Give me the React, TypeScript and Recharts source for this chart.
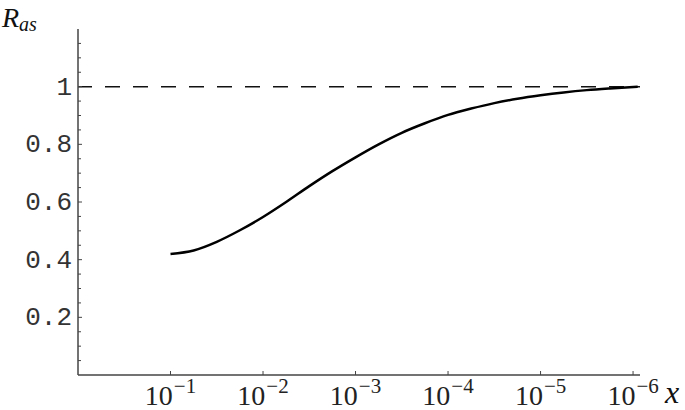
import { LineChart, Line, XAxis, YAxis, ReferenceLine } from 'recharts';

// t = -log10(x), so 10^-1 sits at t = 1
const curveT = [1.0, 1.25, 1.5, 1.75, 2.0, 2.25, 2.5, 2.75, 3.0, 3.25, 3.5, 3.75, 4.0, 4.25, 4.5, 4.75, 5.0, 5.25, 5.5, 5.75, 6.05];
const curveR = [0.42, 0.432, 0.462, 0.502, 0.548, 0.6, 0.655, 0.707, 0.755, 0.8, 0.84, 0.873, 0.902, 0.924, 0.943, 0.958, 0.97, 0.98, 0.988, 0.994, 1.0];

const xExponents = [1, 2, 3, 4, 5, 6];
const yMinorTicks = [0.05, 0.1, 0.15, 0.2, 0.25, 0.3, 0.35, 0.4, 0.45, 0.5, 0.55, 0.6, 0.65, 0.7, 0.75, 0.8, 0.85, 0.9, 0.95, 1.0, 1.05, 1.1, 1.15];
const yMajorValues = [0.2, 0.4, 0.6, 0.8, 1.0];
const yMajorLabels = ['0.2', '0.4', '0.6', '0.8', '1'];

const data = curveT.map((t, i) => ({ t, R: curveR[i] }));

const axisColor = '#444';

const YTick = (props: any) => {
  const { x, y, payload } = props;
  const idx = yMajorValues.findIndex((v) => Math.abs(v - payload.value) < 1e-6);
  const major = idx >= 0;
  return (
    <g>
      <line x1={x} y1={y} x2={x + (major ? 4 : 3)} y2={y} stroke={axisColor} strokeWidth={1} />
      {major && (
        <text
          x={x - 6}
          y={y}
          dy={8}
          textAnchor="end"
          fontFamily="'Liberation Mono', monospace"
          fontSize={26}
          fill="#333"
        >
          {yMajorLabels[idx]}
        </text>
      )}
    </g>
  );
};

const XTick = (props: any) => {
  const { x, y, payload } = props;
  return (
    <g>
      <line x1={x} y1={y} x2={x} y2={y - 4} stroke={axisColor} strokeWidth={1} />
      <text
        x={x}
        y={y + 30}
        textAnchor="middle"
        fontFamily="'Liberation Serif', serif"
        fill="#222"
      >
        <tspan fontSize={28}>10</tspan>
        <tspan fontSize={21} dy={-12} dx={1}>{`\u2212${payload.value}`}</tspan>
      </text>
    </g>
  );
};

export default function App() {
  return (
    <div style={{ position: 'absolute', left: 0, top: 0, background: '#fff' }}>
      <LineChart
        width={685}
        height={410}
        data={data}
        margin={{ top: 29, right: 45, left: 0, bottom: 0 }}
      >
        <XAxis
          type="number"
          dataKey="t"
          domain={[0, 6.075]}
          ticks={xExponents}
          height={35}
          tickSize={0}
          tickMargin={0}
          tickLine={false}
          tick={<XTick />}
          axisLine={{ stroke: axisColor, strokeWidth: 1.5 }}
          allowDataOverflow
        />
        <YAxis
          type="number"
          domain={[0, 1.2]}
          ticks={yMinorTicks}
          width={78}
          tickSize={0}
          tickMargin={0}
          tickLine={false}
          tick={<YTick />}
          axisLine={{ stroke: axisColor, strokeWidth: 1.5 }}
          interval={0}
          allowDataOverflow
        />
        <ReferenceLine y={1} stroke="#111" strokeWidth={1.5} strokeDasharray="15 13" strokeDashoffset={1} />
        <Line
          type="monotone"
          dataKey="R"
          stroke="#000"
          strokeWidth={2.5}
          dot={false}
          isAnimationActive={false}
        />
        <text x={2} y={27} fontFamily="'Liberation Serif', serif" fontStyle="italic" fill="#111">
          <tspan fontSize={28}>R</tspan>
          <tspan fontSize={20} dy={4}>as</tspan>
        </text>
        <text x={665} y={403} fontFamily="'Liberation Serif', serif" fontStyle="italic" fontSize={32} fill="#111">
          x
        </text>
      </LineChart>
    </div>
  );
}
